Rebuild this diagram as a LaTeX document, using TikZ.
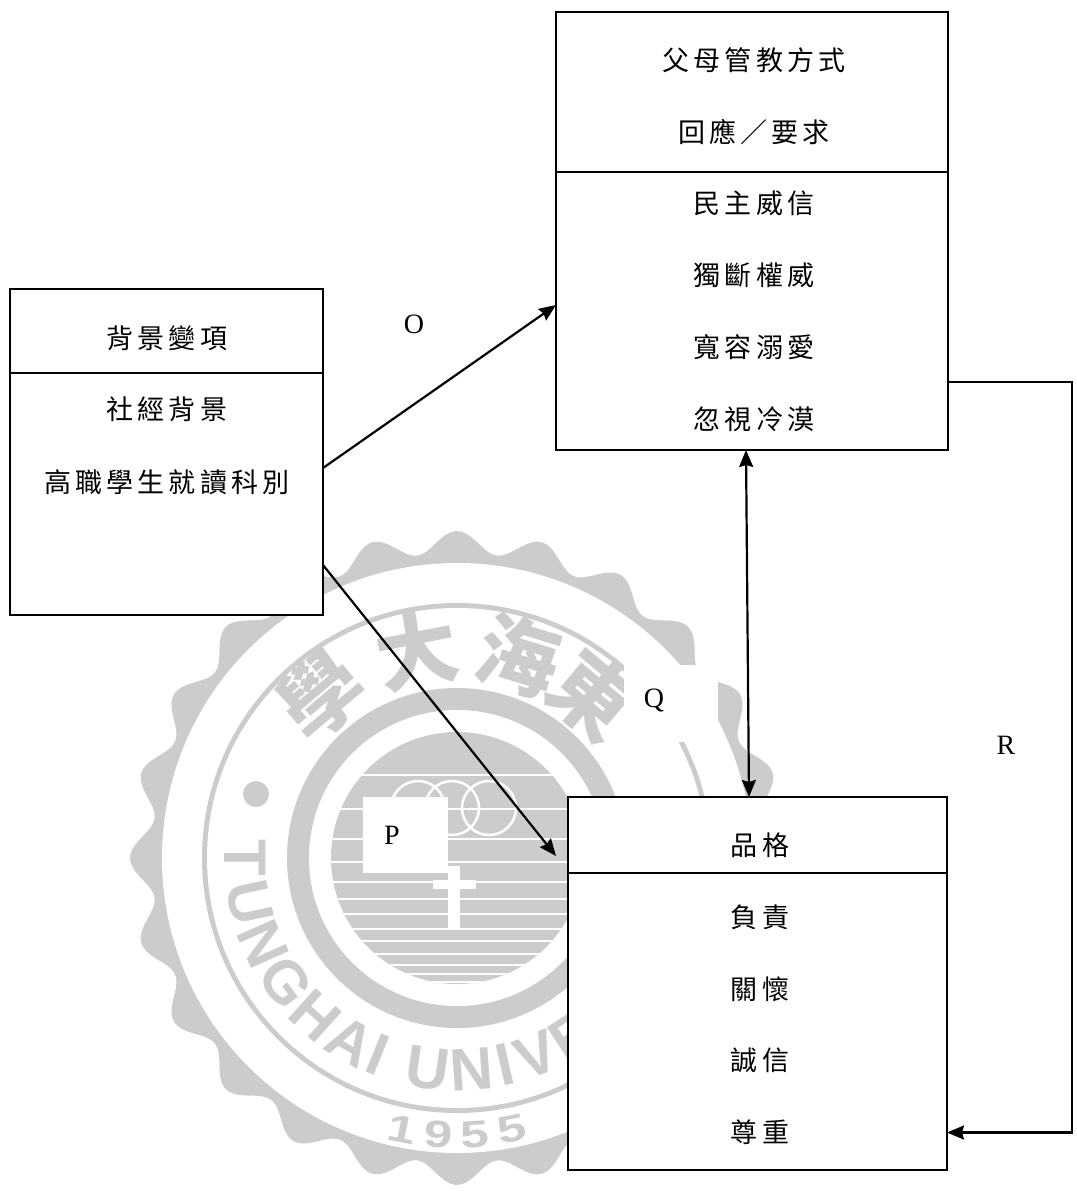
\documentclass[tikz,border=0pt]{standalone}
\usepackage{fontspec}
\setmainfont{Liberation Serif}
\newfontfamily\cjk[LetterSpace=15]{Noto Sans CJK TC}
\newfontfamily\cjkwm{Noto Sans CJK TC}
\newfontfamily\wmsans{Liberation Sans}
\usetikzlibrary{arrows.meta,calc}
\definecolor{wm}{HTML}{CCCCCC}
\tikzset{
  boxpart/.style={draw=black,line width=1.5pt,fill=white,inner sep=0pt,outer sep=0pt},
  cell/.style={inner sep=0pt,font={\cjk\fontsize{27}{30}\selectfont}},
  lab/.style={inner sep=0pt,font={\fontsize{28}{30}\selectfont}},
  link/.style={line width=2.2pt,-{Stealth[length=17pt,width=14pt,inset=2pt]}},
  twolink/.style={line width=2.2pt,{Stealth[length=17pt,width=14pt,inset=2pt]}-{Stealth[length=17pt,width=14pt,inset=2pt]}},
  patch/.style={fill=white,draw=none,inner sep=0pt,outer sep=0pt},
  wmletter/.style={text=wm,inner sep=0pt,font={\wmsans\bfseries\fontsize{60}{60}\selectfont}},
  wmhan/.style={text=wm,inner sep=0pt,font={\cjkwm\bfseries\fontsize{82}{82}\selectfont}},
  wmdigit/.style={text=wm,inner sep=0pt,font={\wmsans\bfseries\fontsize{38}{38}\selectfont}}
}
\begin{document}
\begin{tikzpicture}[x=1pt,y=-1pt]
\useasboundingbox (0,0) rectangle (1076,1191);
% --- watermark seal
\def\cx{457}\def\cy{858}
\fill[wm] plot[domain=0:360,samples=400] ({\cx+(316+11*cos(24*\x))*cos(\x)},{\cy+(316+11*cos(24*\x))*sin(\x)}) -- cycle;
\fill[white] (\cx,\cy) circle[radius=295];
\fill[wm] (\cx,\cy) circle[radius=255];
\fill[white] (\cx,\cy) circle[radius=250];
\fill[wm] (\cx,\cy) circle[radius=170];
\fill[white] (\cx,\cy) circle[radius=148];
\begin{scope}
\clip (\cx,\cy) circle[radius=126];
\fill[wm] (\cx-130,\cy-130) rectangle (\cx+130,\cy+130);
\foreach \yy/\ww in {775/2.5,809/2.5,839/2.5,862/2.5,882/2.5,899/2.5,914/2.5,929/2.5,941/2.5,954/2.5,965/2.5,974/2,982/2}
  \draw[white,line width=\ww pt] (300,\yy) -- (620,\yy);
\end{scope}
\foreach \xx in {418,452,489}
  \draw[white,line width=2.5pt] (\xx,808) circle[radius=27];
\fill[white] (448,866) rectangle (460,929);
\fill[white] (433,880) rectangle (476,889);
\fill[wm] (256,794) circle[radius=13];
% seal texts
\foreach \t/\a in {T/180,U/192,N/204,G/216,H/228,A/240,I/248,U/262,N/274,I/283,V/292,E/303}
  \node[wmletter,rotate=\a-270] at ({\cx+212*cos(\a)},{\cy-212*sin(\a)}) {\t};
\foreach \t/\a in {東/50,海/73,大/101,學/130}
  \node[wmhan,rotate=\a-90] at ({\cx+212*cos(\a)},{\cy-212*sin(\a)}) {\t};
\foreach \t/\a in {1/258.6,9/266.2,5/273.8,5/281.4}
  \node[wmdigit,rotate=\a-270] at ({\cx+277*cos(\a)},{\cy-277*sin(\a)}) {\scalebox{1.35}[1]{\t}};
% white patches behind the labels
\node[patch,minimum width=94pt,minimum height=77pt] (patchQ) at (671,703.5) {};
\node[patch,minimum width=84.5pt,minimum height=76pt] (patchP) at (405.25,835) {};
% --- boxes
\node[boxpart,minimum width=313pt,minimum height=84pt] (aHead) at (166.5,331) {};
\node[boxpart,minimum width=313pt,minimum height=242pt] (aBody) at (166.5,494) {};
\node[boxpart,minimum width=392pt,minimum height=160pt] (bHead) at (752,92) {};
\node[boxpart,minimum width=392pt,minimum height=278pt] (bBody) at (752,311) {};
\node[boxpart,minimum width=379pt,minimum height=76pt] (cHead) at (757.5,835) {};
\node[boxpart,minimum width=379pt,minimum height=297pt] (cBody) at (757.5,1021.5) {};
% --- box texts
\node[cell] (a0) at (167,338) {背景變項};
\node[cell] (a1) at (167,409) {社經背景};
\node[cell] (a2) at (167,482) {高職學生就讀科別};
\node[cell] (b0) at (754,60) {父母管教方式};
\node[cell] (b1) at (754,132) {回應／要求};
\node[cell] (b2) at (754,203) {民主威信};
\node[cell] (b3) at (754,275) {獨斷權威};
\node[cell] (b4) at (754,347) {寬容溺愛};
\node[cell] (b5) at (754,419) {忽視冷漠};
\node[cell] (c0) at (760,845) {品格};
\node[cell] (c1) at (760,917) {負責};
\node[cell] (c2) at (760,989) {關懷};
\node[cell] (c3) at (760,1060) {誠信};
\node[cell] (c4) at (760,1132) {尊重};
% --- labels
\node[lab] (lO) at (414,324) {O};
\node[lab] (lP) at (392,835) {P};
\node[lab] (lQ) at (654,700) {Q};
\node[lab] (lR) at (1006,745) {R};
% --- connectors
\draw[link] ([yshift=26pt]aBody.east) -- ([yshift=6pt]bBody.west);
\draw[link] ([yshift=-71pt]aBody.east) -- ([xshift=-12pt,yshift=-21pt]cHead.west);
\draw[twolink] ([xshift=-6pt]bBody.south) -- ([xshift=-8.5pt]cHead.north);
\draw[link] ([yshift=-71pt]bBody.east) -- ++(124,0) |- ([yshift=-111pt]cBody.east);
\end{tikzpicture}
\end{document}
